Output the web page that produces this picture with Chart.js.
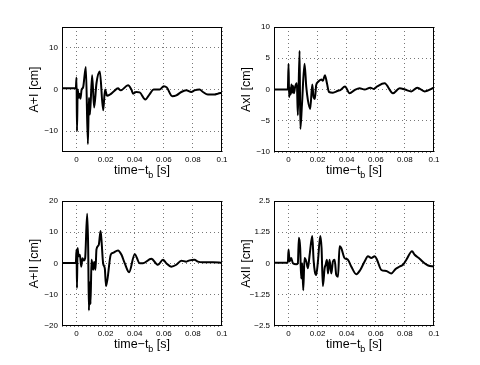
<!DOCTYPE html>
<html>
<head>
<meta charset="utf-8">
<script src="https://cdn.jsdelivr.net/npm/chart.js@4/dist/chart.umd.min.js"></script>
<style>
  html, body { margin: 0; padding: 0; background: #fff; }
  body { width: 480px; height: 365px; position: relative; overflow: hidden; }
  canvas { position: absolute; }
</style>
</head>
<body>
<canvas id="c1" width="240" height="182" style="left:0px;top:0px"></canvas>
<canvas id="c2" width="240" height="182" style="left:212px;top:0px"></canvas>
<canvas id="c3" width="240" height="182" style="left:0px;top:174px"></canvas>
<canvas id="c4" width="240" height="182" style="left:212px;top:174px"></canvas>
<script>
// x ticks (time - t_b, s), shared by all four panels
const xTicks = [0, 0.02, 0.04, 0.06, 0.08, 0.1];
const xRange = [-0.01, 0.1];

// A+I
const tA1 = [-0.01, -0.005, -0.0005, 0, 0.0003, 0.0008, 0.0015, 0.002, 0.0027, 0.0035, 0.0045, 0.0064, 0.0078, 0.0085, 0.0092, 0.0107, 0.0121, 0.0137, 0.016, 0.0183, 0.0196, 0.021, 0.023, 0.0255, 0.0285, 0.0303, 0.0354, 0.0377, 0.0389, 0.041, 0.0434, 0.0473, 0.0503, 0.053, 0.0571, 0.06, 0.062, 0.0658, 0.0686, 0.072, 0.0754, 0.0789, 0.0811, 0.0846, 0.0869, 0.0903, 0.0949, 0.0971, 0.1];
const vA1 = [0.3, 0.3, 0.3, 2.9, -10, 0, -2, -1, -2.2, 0, 0.5, 5.4, -13.1, -2, -6, 3.4, -4.3, 1.5, 4.3, -5, 0, -1.5, -1.2, -0.5, 0.3, -0.2, 1.0, 0, -1, -0.6, -0.7, -2.4, -1.1, 0, 0, 0.8, 0.5, -1.6, -1.4, -0.6, -0.2, -0.6, -0.2, 0, -0.6, -1.2, -1.2, -1.0, -0.8];
const yTicks1 = [-10, 0, 10];
const yRange1 = [-15, 15];

// AxI
const tX1 = [-0.01, -0.0005, 0, 0.0004, 0.001, 0.0015, 0.002, 0.0025, 0.003, 0.0037, 0.0045, 0.0057, 0.0064, 0.0076, 0.0081, 0.0092, 0.011, 0.0122, 0.0133, 0.0149, 0.0163, 0.0172, 0.0181, 0.019, 0.0202, 0.0225, 0.0236, 0.025, 0.0264, 0.0278, 0.0305, 0.034, 0.0356, 0.0388, 0.042, 0.0454, 0.0488, 0.0523, 0.0562, 0.0585, 0.061, 0.066, 0.0718, 0.0764, 0.08, 0.0844, 0.0885, 0.0936, 0.1];
const vX1 = [0, 0, 4.1, -1.2, 0.2, -0.8, 0.8, -0.5, 0.6, -0.6, 0.4, 1, -4.1, 6.2, -6.3, -2.5, 4.1, 0.4, -1.7, -3.1, 0.8, -1.2, -1.5, 0.7, 1.2, 1.6, 1.4, 2.3, 1.0, -0.4, -0.5, -0.2, -0.1, 0.5, -0.6, -0.1, 0.2, 0, 0.3, 0.1, 0.5, 1.0, -0.6, 0.2, 0, -0.3, 0.3, -0.3, 0.3];
const yTicks2 = [-10, -5, 0, 5, 10];
const yRange2 = [-10, 10];

// A+II
const tA2 = [-0.01, -0.0005, 0, 0.0003, 0.0007, 0.0014, 0.0023, 0.0032, 0.0041, 0.005, 0.0059, 0.0073, 0.008, 0.0085, 0.0091, 0.0096, 0.0103, 0.0114, 0.0121, 0.013, 0.0137, 0.0153, 0.0165, 0.0171, 0.0183, 0.0194, 0.0203, 0.0235, 0.025, 0.0285, 0.0309, 0.0331, 0.0361, 0.04, 0.0434, 0.0457, 0.0514, 0.056, 0.0594, 0.0617, 0.0651, 0.0686, 0.072, 0.0754, 0.0777, 0.0811, 0.0834, 0.0869, 0.0937, 0.1];
const vA2 = [0.2, 0.2, 4.5, -7.8, 5, 2.3, 2.8, -1, 1.7, 1.0, 1.7, 15.9, 5, -15, -6, -13, 1.2, -2, 0.5, -2, 4.5, 6, 10.4, 7.7, 0, -1.5, -7.2, 2.8, 3.4, 4.2, 2.8, 0.1, -2.8, 3, 0.1, 0.1, 1.5, -0.4, 1.2, 0.1, -1, -0.4, 0.9, 0.6, 1.0, 1.2, 0.6, 0.4, 0.4, 0.2];
const yTicks3 = [-20, -10, 0, 10, 20];
const yRange3 = [-20, 20];

// AxII
const tX2 = [-0.01, -0.0005, 0, 0.0007, 0.0018, 0.003, 0.0053, 0.0064, 0.0071, 0.008, 0.0087, 0.0094, 0.0101, 0.011, 0.0122, 0.0133, 0.0144, 0.0163, 0.0172, 0.0181, 0.019, 0.0202, 0.0218, 0.0227, 0.0236, 0.0248, 0.0255, 0.0264, 0.0271, 0.0282, 0.0294, 0.0305, 0.0317, 0.0328, 0.034, 0.0351, 0.0362, 0.0385, 0.0408, 0.0431, 0.0466, 0.0493, 0.0523, 0.0546, 0.0569, 0.0592, 0.0608, 0.0638, 0.0672, 0.0706, 0.0736, 0.0764, 0.0787, 0.081, 0.0849, 0.0867, 0.0901, 0.0935, 0.096, 0.1];
const vX2 = [0.03, 0.03, 0.56, 0.08, 0.22, 0.01, -0.03, 0.01, 1.03, 0.62, -0.6, 0.01, -1.07, 0.22, 0.08, -0.19, 0.29, 1.1, 0.15, -0.33, -0.46, 0.08, 1.1, 0.62, -0.9, -0.19, -0.05, 0.15, -0.4, 0.15, -0.4, 0.08, 0.15, -0.46, -0.53, 0.69, 0.62, 0.22, 0.15, -0.12, -0.43, -0.26, 0.08, 0.29, 0.22, 0.29, 0.15, -0.26, -0.3, -0.4, -0.22, -0.12, -0.05, 0.15, 0.49, 0.35, 0.19, 0.01, -0.08, -0.12];
const yTicks4 = [-2.5, -1.25, 0, 1.25, 2.5];
const yRange4 = [-2.5, 2.5];

const FONT = '"Liberation Sans", Arial, Helvetica, sans-serif';

function fmt(v) {
  return String(v).replace('-', '\u2212');
}

// boîte noire autour du graphique + titre x avec indice
const cadre = {
  id: 'cadre',
  afterDraw(chart) {
    const ctx = chart.ctx;
    const a = chart.chartArea;
    ctx.save();
    ctx.strokeStyle = '#000';
    ctx.lineWidth = 1;
    const l = Math.round(a.left) + 0.5, t = Math.round(a.top) + 0.5;
    const r = Math.round(a.right) - 0.5, b = Math.round(a.bottom) - 0.5;
    ctx.strokeRect(l, t, r - l, b - t);

    const mid = (a.left + a.right) / 2;
    const base = a.bottom + 21.5;
    ctx.fillStyle = '#000';
    ctx.textBaseline = 'alphabetic';
    ctx.textAlign = 'left';
    ctx.font = '12.5px ' + FONT;
    const p1 = 'time\u2212t', p3 = ' [s]';
    const w1 = ctx.measureText(p1).width, w3 = ctx.measureText(p3).width;
    ctx.font = '9px ' + FONT;
    const w2 = ctx.measureText('b').width;
    let x = mid - (w1 + w2 + w3) / 2;
    ctx.font = '12.5px ' + FONT;
    ctx.fillText(p1, x, base);
    ctx.font = '9px ' + FONT;
    ctx.fillText('b', x + w1, base + 4);
    ctx.font = '12.5px ' + FONT;
    ctx.fillText(p3, x + w1 + w2, base);
    ctx.restore();
  }
};

function creerPanneau(id, label, ts, vs, yTicks, yRange) {
  const points = ts.map((t, i) => ({ x: t, y: vs[i] }));
  const gridStyle = { color: '#777', lineWidth: 1, drawTicks: false };
  new Chart(document.getElementById(id), {
    type: 'line',
    data: {
      datasets: [{
        data: points,
        borderColor: '#000',
        borderWidth: 2,
        pointRadius: 0,
        cubicInterpolationMode: 'monotone',
        borderJoinStyle: 'round',
        fill: false
      }]
    },
    options: {
      responsive: false,
      animation: false,
      devicePixelRatio: 1,
      layout: { padding: { left: 20, right: 18, top: 27, bottom: 10 } },
      plugins: { legend: { display: false }, tooltip: { enabled: false } },
      scales: {
        x: {
          type: 'linear',
          min: xRange[0],
          max: xRange[1],
          afterBuildTicks: s => { s.ticks = xTicks.map(v => ({ value: v })); },
          afterFit: s => { s.height = 20; },
          grid: gridStyle,
          border: { display: false, dash: [1, 3] },
          ticks: { padding: 3, color: '#000', font: { family: FONT, size: 8 }, callback: v => fmt(v) }
        },
        y: {
          min: yRange[0],
          max: yRange[1],
          afterBuildTicks: s => { s.ticks = yTicks.map(v => ({ value: v })); },
          afterFit: s => { s.width = 42; },
          grid: gridStyle,
          border: { display: false, dash: [1, 3] },
          title: { display: true, text: label, color: '#000', font: { family: FONT, size: 12.5 }, padding: { top: 7, bottom: 0 } },
          ticks: { padding: 4, color: '#000', font: { family: FONT, size: 8 }, callback: v => fmt(v) }
        }
      }
    },
    plugins: [cadre]
  });
}

creerPanneau('c1', 'A+I [cm]', tA1, vA1, yTicks1, yRange1);
creerPanneau('c2', 'AxI [cm]', tX1, vX1, yTicks2, yRange2);
creerPanneau('c3', 'A+II [cm]', tA2, vA2, yTicks3, yRange3);
creerPanneau('c4', 'AxII [cm]', tX2, vX2, yTicks4, yRange4);
</script>
</body>
</html>
